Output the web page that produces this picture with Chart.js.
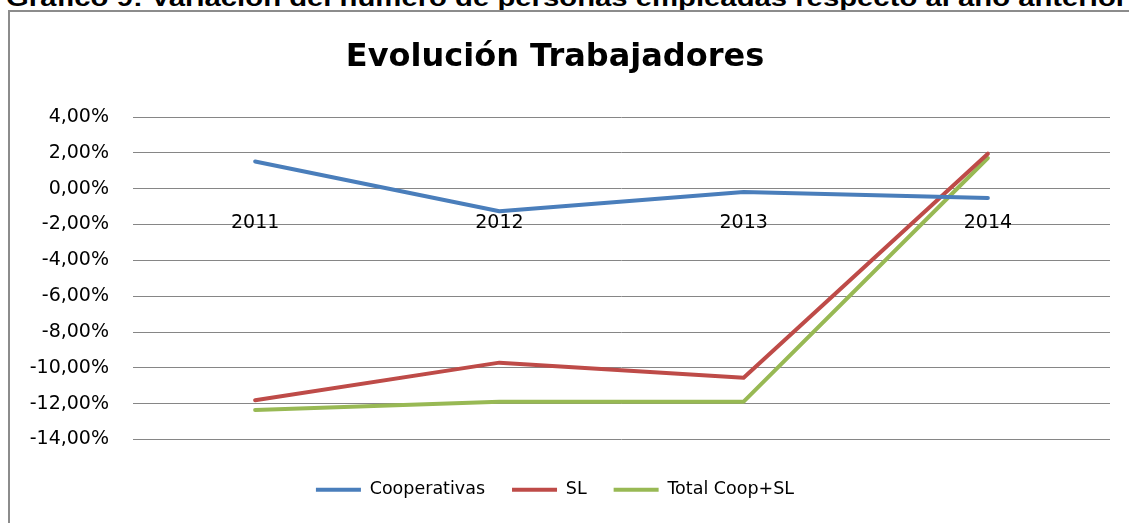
<!DOCTYPE html>
<html lang="es">
<head>
  <meta charset="UTF-8" />
  <title>Evolución Trabajadores</title>
  <script src="https://cdn.jsdelivr.net/npm/chart.js"></script>
  <style>
    body { margin: 0; background: #fff; overflow: hidden; width: 1129px; height: 523px; position: relative; }
    #cabecera {
      position: absolute; left: 6px; top: -14px; white-space: nowrap;
      font: bold 24px/24px "Liberation Sans", Arial, sans-serif; color: #000;
      transform: scaleX(1.22); transform-origin: left top;
    }
    #marco {
      position: absolute; left: 8px; top: 10px; width: 1200px; height: 600px;
      border: 2px solid #8c8c8c; box-sizing: border-box;
    }
    #grafico { position: absolute; left: 0; top: 0; }
  </style>
</head>
<body>
  <div id="cabecera">Gráfico 9: Variación del número de personas empleadas respecto al año anterior</div>
  <div id="marco"></div>
  <canvas id="grafico" width="1129" height="523"></canvas>

<script>
  // datos (en %)
  var anios = ["2011", "2012", "2013", "2014"];
  var cooperativas = [1.52, -1.26, -0.19, -0.52];
  var sl = [-11.81, -9.71, -10.55, 1.95];
  var totalCoopSl = [-12.35, -11.89, -11.89, 1.71];

  var ejeMin = -14;
  var ejeMax = 4;
  var ejePaso = 2;

  var fuente = "'DejaVu Sans', sans-serif";

  function formatoPct(v) {
    return v.toFixed(2).replace(".", ",") + "%";
  }

  function serie(label, data, color) {
    return {
      label: label,
      data: data,
      borderColor: color,
      backgroundColor: color,
      borderWidth: 4,
      pointRadius: 0,
      tension: 0,
      borderCapStyle: "round",
      borderJoinStyle: "round",
    };
  }

  new Chart(document.getElementById("grafico"), {
    type: "line",
    data: {
      labels: anios,
      datasets: [
        serie("Cooperativas", cooperativas, "#4a7ebb"),
        serie("SL", sl, "#be4b48"),
        serie("Total Coop+SL", totalCoopSl, "#98b954"),
      ],
    },
    options: {
      responsive: false,
      animation: false,
      devicePixelRatio: 1,
      layout: {
        padding: { left: 0, right: 19, top: 0, bottom: 14.6 },
      },
      plugins: {
        title: {
          display: true,
          text: "Evolución Trabajadores",
          color: "#000",
          font: { family: fuente, size: 32, weight: "bold" },
          padding: { top: 38, bottom: 40.6 },
        },
        legend: {
          position: "bottom",
          title: { display: true, text: "", font: { size: 12 }, padding: 0 },
          labels: {
            color: "#000",
            font: { family: fuente, size: 17.5 },
            boxWidth: 45,
            boxHeight: 4,
            padding: 27,
            generateLabels: function (chart) {
              var items = Chart.defaults.plugins.legend.labels.generateLabels(chart);
              items.forEach(function (it) {
                it.lineWidth = 0;
                it.fillStyle = it.strokeStyle;
              });
              return items;
            },
          },
        },
        tooltip: { enabled: false },
      },
      scales: {
        x: {
          position: { y: 0 },
          offset: true,
          grid: { display: false, drawTicks: false },
          border: { display: false },
          ticks: {
            color: "#000",
            font: { family: fuente, size: 19 },
            padding: 23,
            maxRotation: 0,
          },
        },
        y: {
          min: ejeMin,
          max: ejeMax,
          afterFit: function (scale) {
            scale.width = 133;
          },
          grid: { color: "#868686", lineWidth: 1, drawTicks: false },
          border: { display: false },
          ticks: {
            stepSize: ejePaso,
            color: "#000",
            font: { family: fuente, size: 19 },
            padding: 24,
            callback: function (v) {
              return formatoPct(v);
            },
          },
        },
      },
    },
  });
</script>
</body>
</html>
